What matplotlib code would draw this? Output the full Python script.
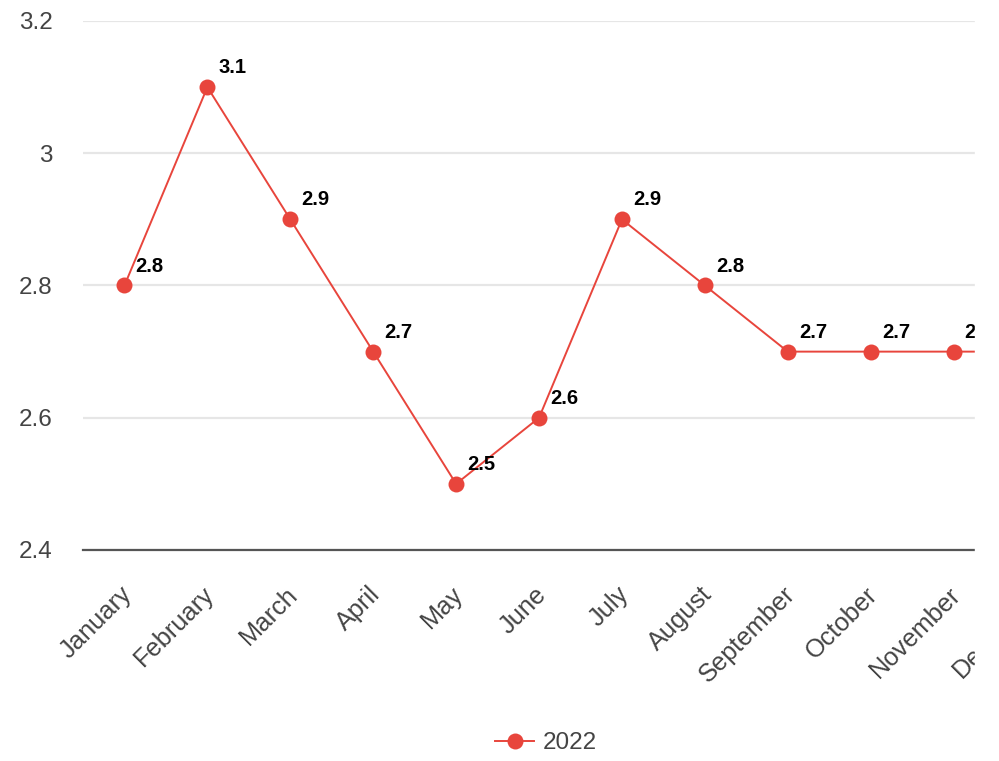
import matplotlib.pyplot as plt
from matplotlib.patches import Rectangle
from matplotlib.transforms import ScaledTranslation

months = ['January', 'February', 'March', 'April', 'May', 'June', 'July',
          'August', 'September', 'October', 'November', 'December']
values_2022 = [2.8, 3.1, 2.9, 2.7, 2.5, 2.6, 2.9, 2.8, 2.7, 2.7, 2.7, 2.7]
y_ticks = [2.4, 2.6, 2.8, 3.0, 3.2]
y_tick_labels = ['2.4', '2.6', '2.8', '3', '3.2']

red = '#e8453c'
grey_text = '#444444'

plt.rcParams['font.family'] = ['Liberation Sans', 'DejaVu Sans']

fig = plt.figure(figsize=(9.99, 7.61), dpi=100)
# plot area runs past the right edge of the picture, as in the original
ax = fig.add_axes([83 / 999, 211 / 761, 995 / 999, 529 / 761])

x = list(range(len(months)))
line, = ax.plot(x, values_2022, color=red, lw=1.4, marker='o', ms=11.5,
                markeredgewidth=0, label='2022', zorder=3)

for xi, v in zip(x, values_2022):
    ax.annotate('{:g}'.format(v), (xi, v), xytext=(8, 10), textcoords='offset points',
                ha='left', va='baseline', fontsize=14.5, fontweight='bold', color='black')

ax.set_xlim(-0.5, len(months) - 0.5)
ax.set_ylim(2.4, 3.2)
ax.set_yticks(y_ticks)
ax.set_yticklabels(y_tick_labels, fontsize=17.5)
ax.set_xticks(x)
ax.set_xticklabels(months, rotation=45, ha='right', rotation_mode='anchor', fontsize=18.3)
ax.tick_params(axis='both', length=0, labelcolor=grey_text)
ax.tick_params(axis='y', pad=22)
ax.tick_params(axis='x', pad=21)
shift = ScaledTranslation(-5 / 100, -3 / 100, fig.dpi_scale_trans)
for lbl in ax.get_xticklabels():
    lbl.set_transform(lbl.get_transform() + shift)

ax.grid(axis='y', color='#e6e6e6', lw=1.6)
ax.set_axisbelow(True)
for s in ['top', 'right', 'left']:
    ax.spines[s].set_visible(False)
ax.spines['bottom'].set_color('#555555')
ax.spines['bottom'].set_linewidth(1.6)
ax.spines['bottom'].set_zorder(4)

fig.legend(handles=[line], loc='center', bbox_to_anchor=(546 / 999, 1 - 743 / 761),
           frameon=False, fontsize=17.5, labelcolor=grey_text, handlelength=1.6,
           handletextpad=0.35)

# the original picture is cut off at the right
fig.patches.append(Rectangle((975 / 999, 0), 1, 1, transform=fig.transFigure,
                             color='white', zorder=10))

fig.savefig('out.png', dpi=100)
